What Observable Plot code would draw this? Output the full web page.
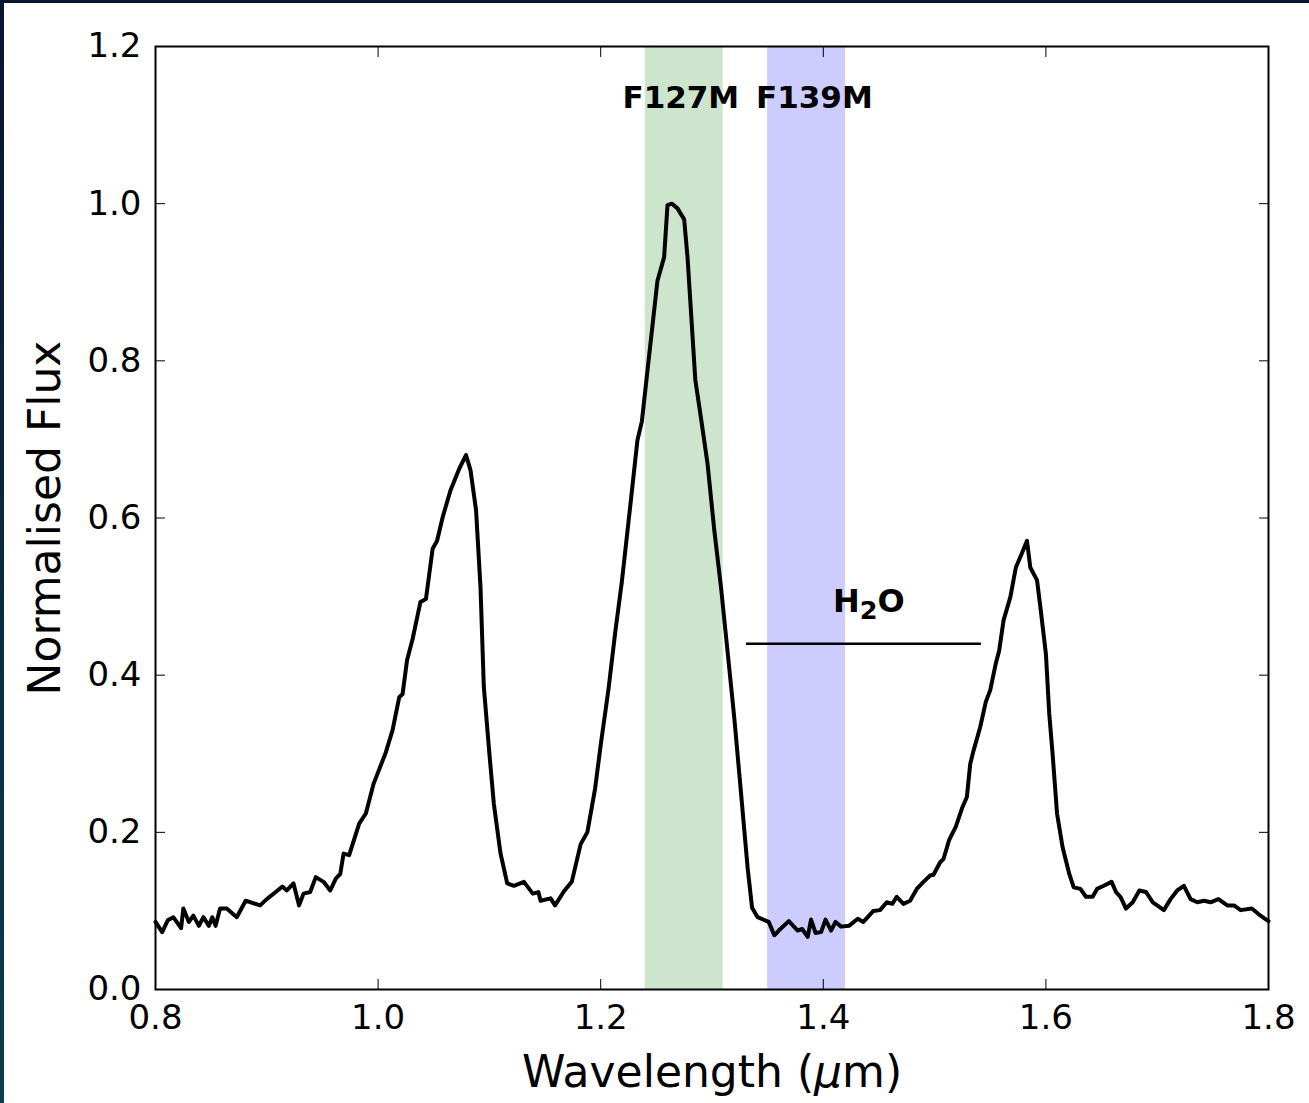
<!DOCTYPE html>
<html><head><meta charset="utf-8">
<script src="https://cdn.jsdelivr.net/npm/d3@7"></script>
<script src="https://cdn.jsdelivr.net/npm/@observablehq/plot@0.6"></script>
<style>
html,body{margin:0;padding:0;}
body{width:1309px;height:1103px;background:linear-gradient(#0a1430,#0c3d4c);overflow:hidden;position:relative;}
#chart{position:absolute;left:4px;top:3px;width:1305px;height:1100px;background:#fff;}
</style></head><body><div id="chart"></div>
<script>
const wavelength = [0.800,0.806,0.811,0.816,0.823,0.825,0.830,0.834,0.839,0.843,0.848,0.851,0.854,0.858,0.864,0.873,0.881,0.894,0.900,0.908,0.914,0.918,0.924,0.929,0.933,0.939,0.944,0.951,0.957,0.962,0.966,0.969,0.974,0.983,0.989,0.996,1.007,1.013,1.019,1.022,1.026,1.031,1.038,1.043,1.049,1.053,1.058,1.065,1.073,1.079,1.083,1.088,1.092,1.095,1.100,1.104,1.110,1.116,1.122,1.131,1.139,1.144,1.146,1.155,1.159,1.167,1.174,1.182,1.188,1.195,1.200,1.207,1.213,1.219,1.227,1.233,1.237,1.243,1.251,1.257,1.260,1.264,1.269,1.275,1.278,1.285,1.290,1.296,1.302,1.308,1.314,1.320,1.326,1.332,1.336,1.341,1.351,1.356,1.360,1.369,1.377,1.381,1.386,1.389,1.393,1.398,1.402,1.407,1.411,1.416,1.423,1.431,1.436,1.445,1.451,1.457,1.462,1.466,1.472,1.478,1.484,1.490,1.496,1.499,1.505,1.508,1.513,1.519,1.525,1.529,1.532,1.535,1.541,1.546,1.550,1.555,1.558,1.562,1.568,1.573,1.579,1.583,1.586,1.592,1.595,1.600,1.603,1.606,1.610,1.615,1.621,1.625,1.631,1.636,1.642,1.646,1.652,1.659,1.663,1.667,1.672,1.678,1.684,1.690,1.696,1.700,1.706,1.712,1.718,1.724,1.730,1.736,1.742,1.748,1.755,1.763,1.769,1.775,1.785,1.791,1.797,1.800];
const flux = [0.086,0.073,0.088,0.092,0.078,0.103,0.086,0.094,0.081,0.092,0.081,0.092,0.081,0.103,0.103,0.092,0.113,0.107,0.115,0.124,0.131,0.126,0.135,0.107,0.122,0.124,0.143,0.137,0.126,0.141,0.147,0.173,0.171,0.211,0.224,0.262,0.302,0.330,0.372,0.376,0.419,0.446,0.493,0.497,0.561,0.571,0.601,0.635,0.663,0.680,0.661,0.610,0.512,0.385,0.300,0.236,0.173,0.135,0.132,0.137,0.122,0.124,0.113,0.116,0.107,0.125,0.137,0.185,0.200,0.256,0.311,0.382,0.454,0.519,0.621,0.699,0.723,0.800,0.902,0.932,0.998,1.000,0.994,0.980,0.932,0.776,0.728,0.669,0.585,0.513,0.430,0.346,0.251,0.155,0.104,0.092,0.086,0.069,0.075,0.087,0.075,0.077,0.067,0.089,0.072,0.073,0.089,0.075,0.086,0.080,0.081,0.090,0.086,0.100,0.101,0.111,0.109,0.118,0.109,0.113,0.128,0.137,0.145,0.146,0.162,0.166,0.190,0.207,0.232,0.245,0.287,0.304,0.334,0.366,0.381,0.415,0.431,0.470,0.499,0.537,0.557,0.571,0.537,0.521,0.487,0.427,0.351,0.300,0.224,0.181,0.147,0.130,0.128,0.118,0.118,0.128,0.132,0.137,0.124,0.118,0.103,0.111,0.126,0.124,0.111,0.107,0.101,0.115,0.126,0.132,0.115,0.111,0.113,0.111,0.115,0.107,0.107,0.101,0.103,0.096,0.090,0.087];

const bandNames = ["F127M", "F139M"];
const bandStart = [1.24, 1.35];
const bandEnd = [1.31, 1.42];
const bandColors = ["#cce5cc", "#ccccff"];
const bandLabelX = [1.272, 1.392];
const bandLabelY = 1.134;

const h2oLabel = "H2O";
const h2oStart = 1.331, h2oEnd = 1.542, h2oLevel = 0.44;
const h2oLabelX = 1.441, h2oLabelY = 0.494;

const xTicks = [0.8, 1.0, 1.2, 1.4, 1.6, 1.8];
const yTicks = [0.0, 0.2, 0.4, 0.6, 0.8, 1.0, 1.2];
const xTitle = "Wavelength (μm)";
const yTitle = "Normalised Flux";

const spectrum = wavelength.map((w, i) => ({w, f: flux[i]}));
const bands = bandNames.map((name, i) => ({name, x1: bandStart[i], x2: bandEnd[i], color: bandColors[i], lx: bandLabelX[i], ly: bandLabelY}));
const fmt = d3.format(".1f");
const none = () => "";

const chart = Plot.plot({
  width: 1305, height: 1100,
  marginLeft: 151, marginRight: 41, marginTop: 43, marginBottom: 114,
  style: {fontFamily: "DejaVu Sans", background: "#fff", color: "#000"},
  x: {domain: [0.8, 1.8]},
  y: {domain: [0, 1.2]},
  marks: [
    Plot.rect(bands, {x1: "x1", x2: "x2", y1: 0, y2: 1.2, fill: "color"}),
    Plot.line(spectrum, {x: "w", y: "f", stroke: "#000", strokeWidth: 4, strokeLinejoin: "round"}),
    Plot.ruleY([h2oLevel], {x1: h2oStart, x2: h2oEnd, stroke: "#000", strokeWidth: 2.5}),
    Plot.text(bands, {x: "lx", y: "ly", text: "name", fontWeight: "bold", fontSize: 31, fill: "#000"}),
    Plot.text([h2oLabel], {x: h2oLabelX, y: h2oLabelY, fontWeight: "bold", fontSize: 32, fill: "#000", className: "h2o"}),
    Plot.frame({stroke: "#000", strokeWidth: 2}),
    Plot.axisX(xTicks, {anchor: "bottom", tickSize: -10, tickFormat: none, label: null}),
    Plot.axisX(xTicks, {anchor: "top", tickSize: -10, tickFormat: none, label: null}),
    Plot.axisY(yTicks, {anchor: "left", tickSize: -10, tickFormat: none, label: null}),
    Plot.axisY(yTicks, {anchor: "right", tickSize: -10, tickFormat: none, label: null}),
    Plot.axisX(xTicks, {anchor: "bottom", tickSize: 0, tickPadding: 15, tickFormat: fmt, fontSize: 34, label: null}),
    Plot.axisY(yTicks, {anchor: "left", tickSize: 0, tickPadding: 14, tickFormat: fmt, fontSize: 34, label: null}),
    Plot.text([xTitle], {frameAnchor: "bottom", dy: 97, fontSize: 44, fill: "#000", className: "xtitle"}),
    Plot.text([yTitle], {frameAnchor: "left", textAnchor: "middle", dx: -110, rotate: -90, fontSize: 44, fill: "#000"})
  ]
});
document.getElementById("chart").append(chart);

// subscript in H2O and italic mu, as real text with tspans
d3.select(chart).selectAll("g.h2o text").each(function() {
  const t = d3.select(this);
  t.text(null);
  t.append("tspan").text("H");
  t.append("tspan").attr("dy", "0.3em").attr("font-size", "0.8em").text("2");
  t.append("tspan").attr("dy", "-0.24em").text("O");
});
d3.select(chart).selectAll("g.xtitle text").each(function() {
  const t = d3.select(this);
  t.text(null);
  t.append("tspan").text("Wavelength (");
  t.append("tspan").attr("font-style", "italic").text("μ");
  t.append("tspan").text("m)");
});
</script>
</body></html>
